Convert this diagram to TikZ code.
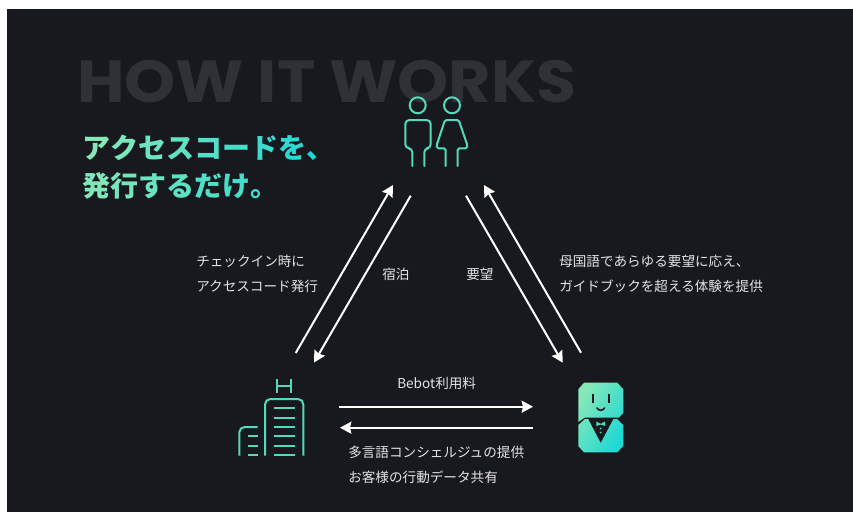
\documentclass[tikz,border=0pt]{standalone}
\usepackage{graphicx}
\usepackage{fontspec}
\setmainfont{Noto Sans CJK JP}
\newfontfamily\headf{Poppins}
\definecolor{bgd}{HTML}{17191F}
\definecolor{tl}{HTML}{52DABA}
\definecolor{ga}{HTML}{86E8B8}
\definecolor{gb}{HTML}{1FD8D4}
\definecolor{ttl}{HTML}{2E3236}
\definecolor{lab}{HTML}{E4E4E4}
\usetikzlibrary{arrows.meta}
\newcommand{\gc}[2]{\textcolor{gb!#1!ga}{#2}}
\tikzset{
 lbl/.style={text=lab,font=\fontsize{10.2pt}{12pt}\selectfont,inner sep=0pt,anchor=base west},
 head/.style={font=\fontsize{21pt}{24pt}\selectfont\bfseries,inner sep=0pt,anchor=base west},
 arr/.style={draw=white,line width=1.5pt,-{Stealth[length=8.5pt,width=9pt,inset=1pt]}},
 ico/.style={draw=tl,line width=1.5pt,line join=round,line cap=round,fill=none},
 thk/.style={draw=tl,line cap=butt,fill=none},
 botfill/.style={left color=ga,right color=gb,shading angle=60}
}
\begin{document}
\begin{tikzpicture}[x=0.75pt,y=-0.75pt]
\useasboundingbox (0,0) rectangle (853,512);
\fill[white] (0,0) rectangle (853,512);
\fill[bgd] (7,9) rectangle (853,512);
\node[text=ttl,font=\headf\fontsize{44.5pt}{50pt}\selectfont\bfseries,inner sep=0pt,anchor=base west] (title) at (77,102) {\scalebox{1.095}[1]{HOW IT WORKS}};
\node[head] (h1) at (82,158) {\gc{0}{ア}\gc{12}{ク}\gc{25}{セ}\gc{37}{ス}\gc{50}{コ}\gc{62}{ー}\gc{75}{ド}\gc{88}{を}\gc{100}{、}};
\node[head] (h2) at (82,196) {\gc{5}{発}\gc{15}{行}\gc{28}{す}\gc{40}{る}\gc{52}{だ}\gc{62}{け}\gc{72}{。}};
% people
\draw[ico] (417.7,105.3) circle[radius=8];
\draw[ico] (452,105.3) circle[radius=8];
\draw[ico,rounded corners=3pt] (412.3,166) -- (412.3,148.3) -- (405.3,148.3) -- (405.3,120) -- (430.7,120) -- (430.7,148.3) -- (424.3,148.3) -- (424.3,166);
\draw[ico,rounded corners=1.2pt] (445.7,166) -- (445.7,148.3) -- (436.7,148.3) -- (436.7,145) -- (445,120) -- (458.7,120) -- (467.3,145) -- (467.3,148.3) -- (457.7,148.3) -- (457.7,166);
\coordinate (pa) at (393,185);
\coordinate (pb) at (410.7,195.7);
\coordinate (pc) at (466,195.7);
\coordinate (pd) at (484,185);
% hotel
\draw[ico,line cap=butt] (277.3,379) -- (277.3,393.3) (291.3,379) -- (291.3,393.3) (277.3,386) -- (291.3,386);
\draw[ico,line cap=butt,rounded corners=4pt] (265,455.7) -- (265,399) -- (303.3,399) -- (303.3,455.7);
\foreach \y/\w in {408.3/1.5,417.7/1.5,427/1.5,436.3/1.5,445.7/1.5,455/2.2}
  \draw[thk,line width=\w pt] (274,\y) -- (295.3,\y);
\draw[ico,line cap=butt,rounded corners=4pt] (239.3,455.7) -- (239.3,427) -- (257.7,427);
\foreach \y/\w in {436.3/1.5,445.7/1.5,455/2.2}
  \draw[thk,line width=\w pt] (248.3,\y) -- (257.7,\y);
\coordinate (ha) at (295.7,353);
\coordinate (hb) at (314,362.5);
\coordinate (hc) at (339.3,406.7);
\coordinate (hd) at (340,427.7);
% bot
\path[botfill] (584,382.7) -- (617.3,382.7) -- (623.3,389.3) -- (623.3,413) -- (619,417.5) -- (585,417.5) -- (578.3,422) -- (578.3,389.3) -- cycle
 (585,419) -- (617,419) -- (623.3,425) -- (623.3,446) -- (617.3,452.3) -- (584,452.3) -- (578.3,446) -- (578.3,425) -- cycle;
\fill[bgd] (588.3,419) -- (613.3,419) -- (600.7,442.7) -- cycle;
\fill[tl] (596.3,421.5) -- (600.7,423.8) -- (605,421.5) -- (605,426) -- (600.7,424.5) -- (596.3,426) -- cycle;
\fill[tl] (600.7,428.5) circle[radius=1] (600.7,432.5) circle[radius=1];
\draw[bgd,line width=1.3pt] (592.7,394) -- (592.7,402.7) (609,394) -- (609,402.7);
\draw[bgd,line width=1.2pt,line cap=round] (597,408) .. controls (599,411) and (602.5,411) .. (604.5,408);
\coordinate (ba) at (562.7,362.7);
\coordinate (bb) at (581,352.7);
\coordinate (bc) at (533,406.7);
\coordinate (bd) at (533.3,427.7);
% arrows
\draw[arr] (ha) -- (pa);
\draw[arr] (pb) -- (hb);
\draw[arr] (pc) -- (ba);
\draw[arr] (bb) -- (pd);
\draw[arr] (hc) -- (bc);
\draw[arr] (bd) -- (hd);
% labels
\node[lbl] (l1) at (196,266) {チェックイン時に};
\node[lbl] (l2) at (196,291) {アクセスコード発行};
\node[lbl] (l3) at (382,279) {宿泊};
\node[lbl] (l4) at (466,279) {要望};
\node[lbl] (l5) at (559,266) {母国語であらゆる要望に応え、};
\node[lbl] (l6) at (559,291) {ガイドブックを超える体験を提供};
\node[lbl] (l7) at (397,388) {Bebot利用料};
\node[lbl] (l8) at (348,457) {多言語コンシェルジュの提供};
\node[lbl] (l9) at (348,482) {お客様の行動データ共有};
\end{tikzpicture}
\end{document}
